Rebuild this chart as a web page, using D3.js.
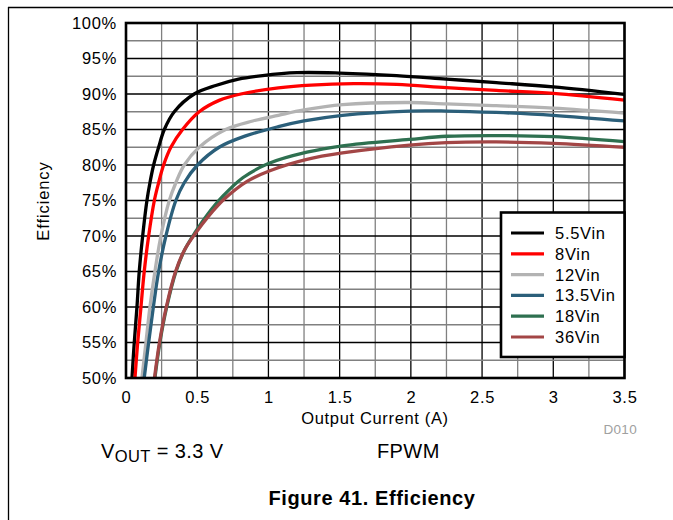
<!DOCTYPE html>
<html><head><meta charset="utf-8">
<script src="https://cdn.jsdelivr.net/npm/d3@7"></script>
<style>
body{margin:0;background:#fff;}
text{font-family:"Liberation Sans",Arial,sans-serif;}
</style></head>
<body><svg id="c" width="673" height="520"></svg>
<script>
const seriesNames = ["5.5Vin","8Vin","12Vin","13.5Vin","18Vin","36Vin"];
const seriesColors = ["#000000","#ff0000","#b3b3b3","#2b5f7a","#2e7050","#a34646"];
const xTicks = [0,0.5,1,1.5,2,2.5,3,3.5];
const yTicks = [50,55,60,65,70,75,80,85,90,95,100];
// [current A, efficiency %]
const s55 = [[0.042,50],[0.058,55],[0.077,60],[0.093,65],[0.117,70],[0.147,75],[0.168,77.5],[0.194,80],[0.229,82.5],[0.269,85],[0.339,87.5],[0.479,90],[0.63,91.2],[0.79,92.1],[0.96,92.6],[1.2,93.0],[1.5,92.95],[1.9,92.6],[2.25,92.1],[2.6,91.6],[3.0,91.0],[3.5,89.95]];
const s8 = [[0.063,50],[0.082,55],[0.105,60],[0.128,65],[0.159,70],[0.199,75],[0.229,77.5],[0.264,80],[0.315,82.5],[0.397,85],[0.514,87.5],[0.654,89.1],[0.806,90],[1.07,90.85],[1.3,91.25],[1.6,91.45],[1.9,91.35],[2.25,90.9],[2.6,90.5],[3.0,90.1],[3.5,89.15]];
const s12 = [[0.112,50],[0.14,55],[0.168,60],[0.203,65],[0.245,70],[0.304,75],[0.35,77.5],[0.409,80],[0.514,82.5],[0.70,85],[0.89,86.2],[1.07,87.0],[1.25,87.75],[1.52,88.5],[1.99,88.8],[2.25,88.6],[2.6,88.35],[3.0,88.0],[3.5,87.3]];
const s135 = [[0.128,50],[0.159,55],[0.192,60],[0.229,65],[0.28,70],[0.35,75],[0.409,77.5],[0.502,80],[0.654,82.5],[0.84,84.1],[1.07,85.4],[1.25,86.2],[1.52,87.0],[1.99,87.6],[2.25,87.6],[2.6,87.4],[3.0,87.0],[3.5,86.2]];
const s18 = [[0.203,50],[0.238,55],[0.286,60],[0.351,65],[0.413,68.1],[0.485,70.5],[0.575,73.1],[0.68,75.6],[0.82,78.2],[1.0,80.2],[1.27,81.8],[1.52,82.7],[1.99,83.6],[2.25,84.05],[2.6,84.15],[3.0,84.0],[3.5,83.3]];
const s36 = [[0.2,50],[0.235,55],[0.283,60],[0.348,65],[0.41,68],[0.485,70.3],[0.58,72.8],[0.69,75.2],[0.85,77.7],[1.01,79.2],[1.27,80.8],[1.52,81.7],[1.99,82.8],[2.25,83.15],[2.6,83.25],[3.0,83.05],[3.5,82.5]];
const seriesData = [s55,s8,s12,s135,s18,s36];

const svg = d3.select("#c");
const L=126,R=624.5,T=23,B=378;
const x = d3.scaleLinear().domain([0,3.5]).range([L,R]);
const y = d3.scaleLinear().domain([50,100]).range([B,T]);
const FONT = "Liberation Sans, Arial, sans-serif";

// outer frame
svg.append("line").attr("x1",8).attr("x2",673).attr("y1",7.5).attr("y2",7.5).attr("stroke","#000").attr("stroke-width",1.3);
svg.append("line").attr("x1",8.5).attr("x2",8.5).attr("y1",7).attr("y2",520).attr("stroke","#000").attr("stroke-width",1.3);

// grid
const g = svg.append("g");
d3.range(0,3.5001,0.25).forEach((v,i)=>{
  g.append("line").attr("x1",x(v)).attr("x2",x(v)).attr("y1",T).attr("y2",B)
   .attr("stroke", i%2? "#808080":"#000").attr("stroke-width",1.3);
});
d3.range(50,100.001,2.5).forEach((v,i)=>{
  g.append("line").attr("x1",L).attr("x2",R).attr("y1",y(v)).attr("y2",y(v))
   .attr("stroke", i%2? "#808080":"#000").attr("stroke-width",1.3);
});

// axes (labels only)
const xa = svg.append("g").attr("transform",`translate(0,${B})`)
  .call(d3.axisBottom(x).tickValues(xTicks).tickSize(0).tickPadding(13).tickFormat(d=>d3.format("")(d)));
xa.select(".domain").remove();
xa.selectAll("text").attr("font-size",16.5).attr("letter-spacing",0.7).attr("fill","#000").style("font-family",FONT);
const ya = svg.append("g").attr("transform",`translate(${L},0)`)
  .call(d3.axisLeft(y).tickValues(yTicks).tickSize(0).tickPadding(9).tickFormat(d=>d+"%"));
ya.select(".domain").remove();
ya.selectAll("text").attr("font-size",16.5).attr("letter-spacing",0.7).attr("fill","#000").style("font-family",FONT);

// clip
svg.append("clipPath").attr("id","clip").append("rect").attr("x",L).attr("y",T).attr("width",R-L).attr("height",B-T);

const line = d3.line().x(d=>x(d[0])).y(d=>y(d[1])).curve(d3.curveCatmullRom.alpha(0.5));
const lines = svg.append("g").attr("clip-path","url(#clip)");
seriesData.forEach((data,i)=>{
  lines.append("path").datum(data).attr("d",line).attr("fill","none")
    .attr("stroke",seriesColors[i]).attr("stroke-width",3.3).attr("stroke-linejoin","round");
});

// plot border
svg.append("rect").attr("x",L).attr("y",T).attr("width",R-L).attr("height",B-T)
  .attr("fill","none").attr("stroke","#000").attr("stroke-width",2.6);

// legend
const lg = svg.append("g");
lg.append("rect").attr("x",501).attr("y",212.5).attr("width",123.5).attr("height",144.5)
  .attr("fill","#fff").attr("stroke","#000").attr("stroke-width",2.6);
seriesNames.forEach((n,i)=>{
  const yy = 233 + i*20.8;
  lg.append("line").attr("x1",511).attr("x2",544).attr("y1",yy).attr("y2",yy)
    .attr("stroke",seriesColors[i]).attr("stroke-width",3.2);
  lg.append("text").attr("x",555).attr("y",yy+6).attr("font-size",16.5).attr("letter-spacing",0.7).text(n);
});

// axis titles
svg.append("text").attr("x",375).attr("y",424).attr("text-anchor","middle").attr("font-size",16.5).attr("letter-spacing",0.65).text("Output Current (A)");
svg.append("text").attr("transform","translate(49,201) rotate(-90)").attr("text-anchor","middle").attr("font-size",16.5).attr("letter-spacing",0.9).text("Efficiency");
svg.append("text").attr("x",637).attr("y",434).attr("text-anchor","end").attr("font-size",13.5).attr("letter-spacing",0.3).attr("fill","#a0a0a0").text("D010");

// annotations
const vt = svg.append("text").attr("x",101).attr("y",458).attr("font-size",20).attr("letter-spacing",0.4);
vt.append("tspan").text("V");
vt.append("tspan").attr("dy",4).attr("font-size",16.5).text("OUT");
vt.append("tspan").attr("dy",-4).text(" = 3.3 V");
svg.append("text").attr("x",377).attr("y",458).attr("font-size",20).attr("letter-spacing",0.4).text("FPWM");
svg.append("text").attr("x",372).attr("y",505).attr("text-anchor","middle").attr("font-size",20).attr("letter-spacing",0.6).attr("font-weight","bold").text("Figure 41. Efficiency");
</script></body></html>
